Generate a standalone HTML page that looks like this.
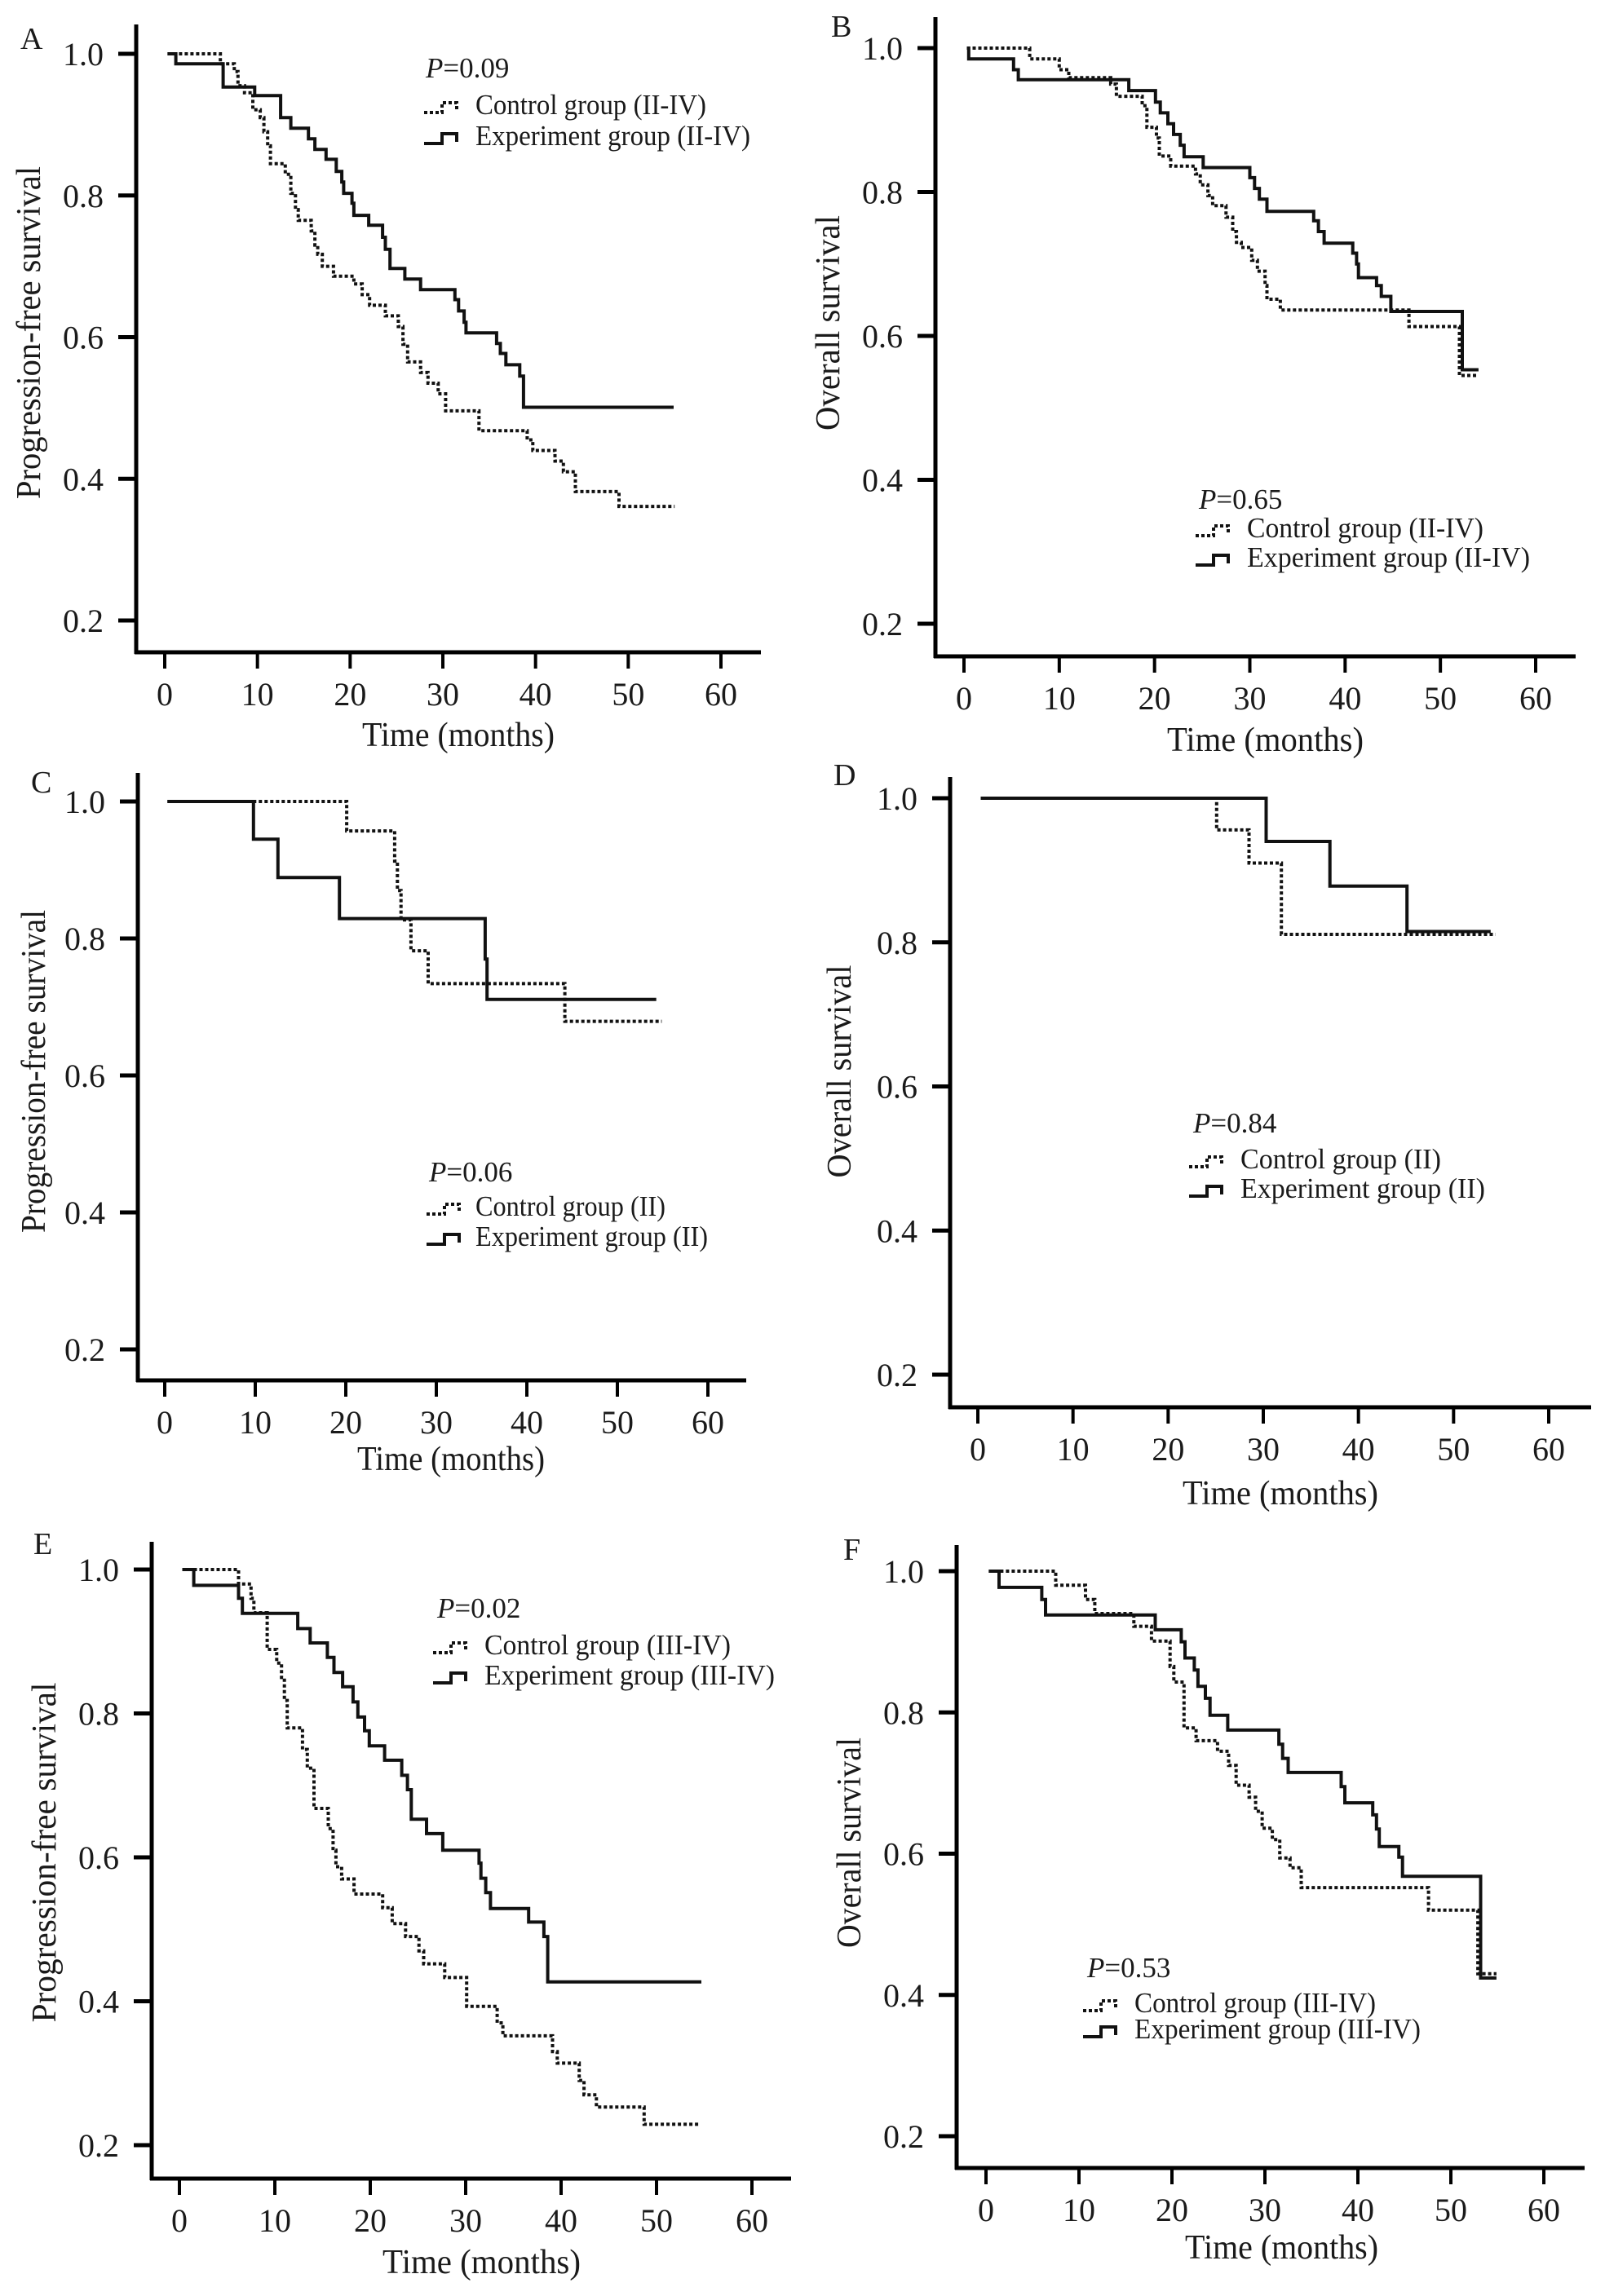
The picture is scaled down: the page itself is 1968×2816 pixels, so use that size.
<!DOCTYPE html>
<html><head><meta charset="utf-8"><title>Survival curves</title>
<style>
html,body{margin:0;padding:0;background:#fff;}
svg{display:block;}
text{font-family:"Liberation Serif","Times New Roman",serif;fill:#1a1a1a;}
</style></head>
<body>
<svg id="fig" width="1968" height="2816" viewBox="0 0 1968 2816" xmlns="http://www.w3.org/2000/svg"></svg>
<script>
// ---- Data (months, survival after each step) ----
const xTickLabels = ["0","10","20","30","40","50","60"];
const yTickLabels = ["0.2","0.4","0.6","0.8","1.0"];
const yTickValues = [0.2,0.4,0.6,0.8,1.0];
const xTickValues = [0,10,20,30,40,50,60];

// Panel A
const aExpT = [1.2,6.3,9.7,12.5,13.6,15.5,16.2,17.4,18.5,19.1,19.3,20.2,20.4,22,23.5,23.8,24.3,25.9,27.6,31.3,31.7,32.3,32.5,35.8,36.2,36.8,38.3,38.7];
const aExpV = [0.986,0.953,0.941,0.910,0.895,0.880,0.865,0.851,0.834,0.819,0.803,0.789,0.772,0.758,0.741,0.724,0.697,0.682,0.667,0.653,0.637,0.621,0.606,0.591,0.577,0.561,0.545,0.501];
const aCtlT = [6,7.5,7.9,8.6,9.5,10.3,10.7,11.1,11.4,13,13.6,14.1,14.4,15.8,16.2,16.5,17,18.2,20.4,21.3,22.1,23.8,25.2,25.7,26.2,27.6,28.4,29.5,30.3,33.9,39.1,39.7,42.1,43,44.3,49];
const aCtlV = [0.986,0.975,0.955,0.945,0.921,0.91,0.89,0.87,0.845,0.83,0.803,0.78,0.765,0.75,0.73,0.717,0.70,0.686,0.675,0.66,0.645,0.63,0.615,0.59,0.565,0.55,0.535,0.52,0.496,0.468,0.455,0.44,0.425,0.41,0.382,0.361];
const aEnd = [54.9,55];
// Panel B
const bExpT = [0.5,5.2,5.7,17.3,20.1,20.6,21.4,22,22.7,23.1,25.1,30,30.5,31,31.8,36.7,37.2,37.8,40.8,41.2,41.4,43.3,43.8,44.8,52.3];
const bExpV = [0.985,0.97,0.956,0.941,0.925,0.910,0.895,0.88,0.865,0.849,0.834,0.82,0.805,0.79,0.773,0.76,0.745,0.729,0.715,0.70,0.681,0.67,0.655,0.634,0.553];
const bCtlT = [6.9,10,11,15.4,16,18.7,19.2,20.2,20.5,21.7,24.3,24.8,25.6,26.1,27.5,28.2,28.6,29.1,30.2,30.8,31.6,31.8,33.2,46.7,52];
const bCtlV = [0.985,0.97,0.959,0.95,0.933,0.92,0.89,0.875,0.85,0.836,0.825,0.81,0.795,0.781,0.765,0.745,0.73,0.723,0.705,0.69,0.67,0.651,0.636,0.613,0.545];
const bEnd = [54,54];
// Panel C
const cExpT = [9.8,12.5,19.3,35.4,35.6];
const cExpV = [0.945,0.889,0.829,0.77,0.711];
const cCtlT = [20.1,25.4,25.7,26.1,27.2,29.1,44.2];
const cCtlV = [0.957,0.913,0.87,0.827,0.782,0.734,0.679];
const cEnd = [54.3,54.9];
// Panel D
const dExpT = [30.3,37,45.1];
const dExpV = [0.94,0.878,0.815];
const dCtlT = [25.1,28.5,31.9];
const dCtlV = [0.956,0.91,0.811];
const dEnd = [53.9,54.4];
// Panel E
const eExpT = [1.5,6.2,6.6,12.4,13.7,15.5,16.2,17.1,18.2,18.7,19.4,19.9,21.5,23.3,23.9,24.3,25.9,27.6,31.4,31.6,32.1,32.6,36.6,38.2,38.6];
const eExpV = [0.978,0.96,0.939,0.918,0.898,0.878,0.857,0.837,0.816,0.795,0.776,0.755,0.735,0.714,0.694,0.653,0.633,0.61,0.592,0.571,0.551,0.529,0.51,0.49,0.427];
const eCtlT = [6.2,7.5,7.8,9.2,10.2,10.7,11,11.3,12.9,13.4,14.1,15.6,16.1,16.4,17,18.3,21.3,22.3,23.7,25.1,25.6,27.8,30.1,33.3,33.9,39.1,39.6,41.9,42.4,43.7,48.7];
const eCtlV = [0.98,0.96,0.94,0.889,0.87,0.85,0.818,0.78,0.75,0.724,0.668,0.64,0.61,0.587,0.57,0.549,0.53,0.508,0.49,0.47,0.452,0.433,0.393,0.37,0.352,0.33,0.314,0.29,0.27,0.253,0.229];
const eEnd = [54.7,54.6];
// Panel F
const fExpT = [1.4,6,6.4,18.2,21,21.4,22.4,22.8,23.6,24.1,26,31.5,31.9,32.5,38.2,38.6,41.6,42,42.3,44.4,44.8,53.2];
const fExpV = [0.977,0.96,0.938,0.917,0.90,0.877,0.86,0.837,0.82,0.796,0.775,0.755,0.735,0.715,0.695,0.672,0.655,0.635,0.61,0.595,0.568,0.424];
const fCtlT = [7.5,10.7,11.7,15.9,17.8,19.8,20.2,21.3,22.6,24.9,26.1,26.9,28.3,29,29.7,30.8,31.6,32.7,33.9,47.6,52.9];
const fCtlV = [0.98,0.96,0.94,0.922,0.901,0.865,0.843,0.778,0.76,0.745,0.725,0.697,0.68,0.66,0.636,0.62,0.594,0.58,0.552,0.52,0.43];
const fEnd = [54.9,54.9];

const NS = "http://www.w3.org/2000/svg";
const svg = document.getElementById('fig');
function mk(tag, attrs, parent){
  const e = document.createElementNS(NS, tag);
  for (const k in attrs) e.setAttribute(k, attrs[k]);
  (parent||svg).appendChild(e);
  return e;
}

const panels = [
 {id:'a', letter:'A', ax:167, top:30, bottom:800, right:933, x0:202, x60:884, y1:66, y02:761, lab:[25,60], yt:[35,408,408,'Progression-free survival'], xt:[444,680,915], P:[522,95,'0.09'], ct:[583,140,283], et:[178,337], icon:520, grp:'(II-IV)', expT:aExpT, expV:aExpV, ctlT:aCtlT, ctlV:aCtlV, end:aEnd},
 {id:'b', letter:'B', ax:1147, top:21, bottom:805, right:1932, x0:1182, x60:1883, y1:59, y02:765, lab:[1019,45], yt:[1015,396,264,'Overall survival'], xt:[1431,1672,921], P:[1470,624,'0.65'], ct:[1529,659,290], et:[695,347], icon:1466, grp:'(II-IV)', expT:bExpT, expV:bExpV, ctlT:bCtlT, ctlV:bCtlV, end:bEnd},
 {id:'c', letter:'C', ax:169, top:948, bottom:1693, right:915, x0:202, x60:868, y1:983, y02:1655, lab:[38,972], yt:[41,1314,396,'Progression-free survival'], xt:[438,668,1803], P:[526,1449,'0.06'], ct:[583,1491,233], et:[1528,285], icon:523, grp:'(II)', expT:cExpT, expV:cExpV, ctlT:cCtlT, ctlV:cCtlV, end:cEnd},
 {id:'d', letter:'D', ax:1165, top:953, bottom:1726, right:1951, x0:1199, x60:1899, y1:979, y02:1686, lab:[1022,963], yt:[1029,1314,261,'Overall survival'], xt:[1450,1690,1845], P:[1463,1389,'0.84'], ct:[1521,1433,246], et:[1469,300], icon:1458, grp:'(II)', expT:dExpT, expV:dExpV, ctlT:dCtlT, ctlV:dCtlV, end:dEnd},
 {id:'e', letter:'E', ax:186, top:1891, bottom:2672, right:970, x0:220, x60:922, y1:1925, y02:2631, lab:[41,1906], yt:[54,2272,417,'Progression-free survival'], xt:[469,712,2788], P:[536,1984,'0.02'], ct:[594,2029,302], et:[2066,356], icon:531, grp:'(III-IV)', expT:eExpT, expV:eExpV, ctlT:eCtlT, ctlV:eCtlV, end:eEnd},
 {id:'f', letter:'F', ax:1173, top:1895, bottom:2659, right:1943, x0:1209, x60:1893, y1:1927, y02:2620, lab:[1034,1913], yt:[1041,2260,258,'Overall survival'], xt:[1453,1690,2770], P:[1333,2425,'0.53'], ct:[1391,2468,296], et:[2500,351], icon:1328, grp:'(III-IV)', expT:fExpT, expV:fExpV, ctlT:fCtlT, ctlV:fCtlV, end:fEnd}
];

function stepPath(xs, ys, T, V, tStart, tEnd){
  let v = 1.0;
  let d = 'M' + xs(tStart).toFixed(1) + ' ' + ys(v).toFixed(1);
  for (let i=0;i<T.length;i++){
    d += ' H' + xs(T[i]).toFixed(1) + ' V' + ys(V[i]).toFixed(1);
  }
  d += ' H' + xs(tEnd).toFixed(1);
  return d;
}

panels.forEach(p => {
  const g = mk('g', {});
  
  
  const xs = t => p.x0 + (t/60)*(p.x60 - p.x0);
  const ys = v => p.y1 + (1 - v)/0.8*(p.y02 - p.y1);

  const lab = mk('text', {x:p.lab[0], y:p.lab[1], 'font-size':38}, g);
  lab.textContent = p.letter;
  
  

  const yAxis = mk('line', {x1:p.ax, y1:p.top, x2:p.ax, y2:p.bottom+2, stroke:'#000', 'stroke-width':5}, g);
  
  
  const xAxis = mk('line', {x1:p.ax-2, y1:p.bottom, x2:p.right, y2:p.bottom, stroke:'#000', 'stroke-width':5}, g);
  
  

  yTickValues.forEach((v,i) => {
    const y = ys(v);
    const tk = mk('line', {x1:p.ax-22, y1:y, x2:p.ax, y2:y, stroke:'#000', 'stroke-width':5}, g);
    
    
    const tl = mk('text', {x:p.ax-40, y:y+14, 'font-size':40, 'text-anchor':'end'}, g);
    tl.textContent = yTickLabels[i];
    
    
  });
  xTickValues.forEach((t,i) => {
    const x = xs(t);
    const tk = mk('line', {x1:x, y1:p.bottom, x2:x, y2:p.bottom+20, stroke:'#000', 'stroke-width':4}, g);
    
    
    const tl = mk('text', {x:x, y:p.bottom+65, 'font-size':40, 'text-anchor':'middle'}, g);
    tl.textContent = xTickLabels[i];
    
    
  });

  const yt = mk('text', {x:0, y:0, 'font-size':42, 'text-anchor':'middle', textLength:p.yt[2], lengthAdjust:'spacingAndGlyphs', transform:'translate('+(p.yt[0]+14)+','+p.yt[1]+') rotate(-90)'}, g);
  yt.textContent = p.yt[3];
  
  
  const xt = mk('text', {x:p.xt[0], y:p.xt[2], 'font-size':42, textLength:p.xt[1]-p.xt[0], lengthAdjust:'spacingAndGlyphs'}, g);
  xt.textContent = 'Time (months)';
  
  

  const ctl = mk('path', {d:stepPath(xs, ys, p.ctlT, p.ctlV, 0.3, p.end[1]), fill:'none', stroke:'#111', 'stroke-width':4, 'stroke-dasharray':'4 3'}, g);
  
  
  const exp = mk('path', {d:stepPath(xs, ys, p.expT, p.expV, 0.3, p.end[0]), fill:'none', stroke:'#111', 'stroke-width':4}, g);
  
  

  const lg = mk('g', {}, g);
  
  
  const pt = mk('text', {x:p.P[0], y:p.P[1], 'font-size':35}, lg);
  pt.innerHTML = '<tspan font-style="italic">P</tspan>=' + p.P[2];
  
  

  const ix = p.icon, cy = p.ct[1]-8, ey = p.et[0]-8;
  const ci = mk('path', {d:'M'+ix+' '+(cy+6)+' H'+(ix+22)+' V'+(cy-6)+' H'+(ix+40)+' V'+(cy+4), fill:'none', stroke:'#111', 'stroke-width':4, 'stroke-dasharray':'4 3'}, lg);
  
  
  const ctxt = mk('text', {x:p.ct[0], y:p.ct[1], 'font-size':35, textLength:p.ct[2], lengthAdjust:'spacingAndGlyphs'}, lg);
  ctxt.textContent = 'Control group ' + p.grp;
  
  

  const ei = mk('path', {d:'M'+ix+' '+(ey+6)+' H'+(ix+22)+' V'+(ey-6)+' H'+(ix+40)+' V'+(ey+4), fill:'none', stroke:'#111', 'stroke-width':4}, lg);
  
  
  const etxt = mk('text', {x:p.ct[0], y:p.et[0], 'font-size':35, textLength:p.et[1], lengthAdjust:'spacingAndGlyphs'}, lg);
  etxt.textContent = 'Experiment group ' + p.grp;
  
  
});
</script>
</body></html>
